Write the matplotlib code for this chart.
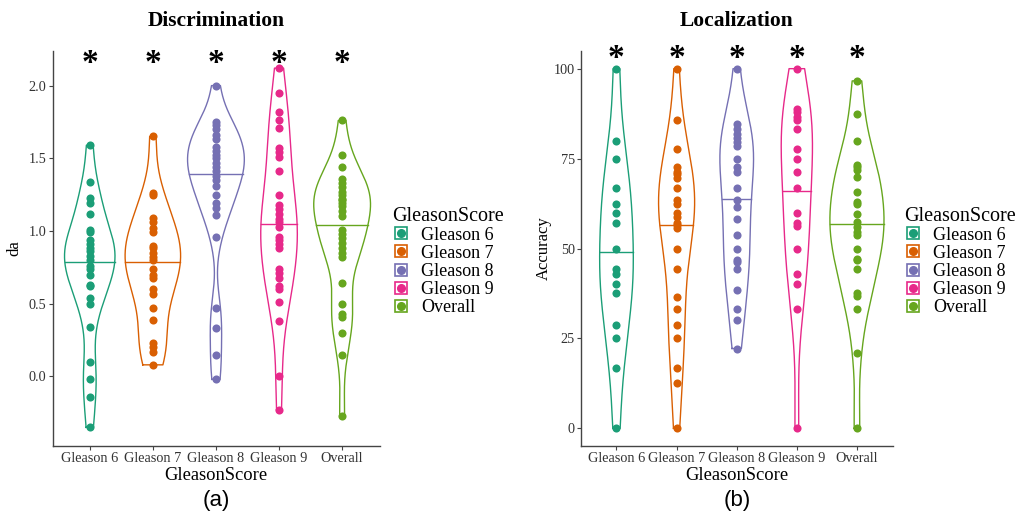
import numpy as np
import matplotlib.pyplot as plt
from matplotlib.lines import Line2D
from matplotlib.legend_handler import HandlerTuple

plt.rcParams['font.family'] = 'Liberation Serif'

grupos = ['Gleason 6', 'Gleason 7', 'Gleason 8', 'Gleason 9', 'Overall']
colores = ['#1B9E77', '#D95F02', '#7570B3', '#E7298A', '#66A61E']

# Discrimination (da), valores
da_g6 = [1.59, 1.34, 1.23, 1.19, 1.12, 1.01, 0.99, 0.94, 0.91, 0.88, 0.86, 0.83, 0.80,
         0.76, 0.74, 0.70, 0.63, 0.62, 0.54, 0.50, 0.34, 0.10, -0.02, -0.14, -0.35]
da_g7 = [1.65, 1.26, 1.25, 1.09, 1.06, 1.02, 0.99, 0.90, 0.88, 0.85, 0.82, 0.80,
         0.74, 0.70, 0.68, 0.60, 0.57, 0.47, 0.39, 0.23, 0.20, 0.17, 0.08]
da_g8 = [2.00, 1.75, 1.73, 1.70, 1.66, 1.63, 1.58, 1.55, 1.52, 1.50, 1.47, 1.44, 1.41,
         1.38, 1.35, 1.31, 1.25, 1.19, 1.16, 1.11, 0.96, 0.47, 0.33, 0.15, -0.02]
da_g9 = [2.12, 1.95, 1.82, 1.76, 1.71, 1.57, 1.54, 1.51, 1.41, 1.25, 1.18, 1.15, 1.12,
         1.08, 1.06, 1.03, 0.96, 0.94, 0.91, 0.88, 0.74, 0.71, 0.68, 0.62, 0.60, 0.51,
         0.38, 0.00, -0.23]
da_all = [1.76, 1.52, 1.44, 1.36, 1.33, 1.30, 1.27, 1.25, 1.22, 1.21, 1.19, 1.17, 1.14,
          1.10, 1.01, 0.98, 0.95, 0.92, 0.88, 0.85, 0.82, 0.64, 0.50, 0.43, 0.41, 0.30,
          0.15, -0.27]

# Localization (Accuracy)
acc_g6 = [100, 80, 75, 66.7, 62.5, 60, 57.1, 50, 44.4, 42.9, 40, 37.5, 28.6, 25, 16.7, 0]
acc_g7 = [100, 85.7, 77.8, 72.7, 71.4, 70.8, 69.6, 66.7, 63.6, 62.5, 60, 58.8, 57.1,
          56.5, 55.6, 50, 44.4, 36.4, 33.3, 28.6, 25, 16.7, 12.5, 0]
acc_g8 = [100, 84.6, 83.3, 81.8, 80.6, 79.6, 78.4, 75, 72.7, 71.4, 66.7, 63.6, 61.5,
          58.3, 53.8, 50, 46.7, 46.2, 44.4, 38.5, 33.3, 30, 22.2]
acc_g9 = [100, 88.9, 88, 86.7, 85.7, 83.3, 77.8, 75, 71.4, 66.7, 60, 57.1, 56.3, 50,
          42.9, 40, 33.3, 0]
acc_all = [96.6, 87.5, 80, 73.3, 72.7, 71.8, 70, 65.7, 63, 62.5, 59.7, 57.4, 56, 54.5,
           53.8, 50, 47.2, 46.7, 44.4, 37.5, 36.8, 33.3, 21, 0]

da = [da_g6, da_g7, da_g8, da_g9, da_all]
acc = [acc_g6, acc_g7, acc_g8, acc_g9, acc_all]

# semiancho maximo de cada violin (en unidades de categoria)
ancho_da = [0.40, 0.44, 0.45, 0.29, 0.45]
ancho_acc = [0.28, 0.30, 0.28, 0.26, 0.45]


def densidad(v, ajuste=1.0):
    v = np.asarray(v, float)
    n = len(v)
    iqr = np.percentile(v, 75) - np.percentile(v, 25)
    bw = ajuste * 0.9 * min(v.std(ddof=1), iqr / 1.34) * n ** -0.2
    y = np.linspace(v.min(), v.max(), 512)
    d = np.exp(-0.5 * ((y[:, None] - v[None, :]) / bw) ** 2).sum(1) / (n * bw * np.sqrt(2 * np.pi))
    return y, d


def violines(ax, datos, anchos, ajuste, yast):
    for i, (v, c, a) in enumerate(zip(datos, colores, anchos)):
        y, d = densidad(v, ajuste)
        w = a * d / d.max()
        xs = np.concatenate([i - w, (i + w)[::-1], [i - w[0]]])
        ys = np.concatenate([y, y[::-1], [y[0]]])
        ax.plot(xs, ys, color=c, lw=1.0)
        # mediana a partir de la densidad (como draw_quantiles)
        cdf = np.cumsum(d) / d.sum()
        ym = np.interp(0.5, cdf, y)
        wm = np.interp(ym, y, w)
        ax.plot([i - wm, i + wm], [ym, ym], color=c, lw=1.0)
        ax.scatter(np.full(len(v), i), v, s=34, color=c, zorder=3, linewidths=0)
        ax.annotate('*', (i, yast), xycoords=('data', 'axes fraction'), xytext=(0, -11),
                    textcoords='offset points', ha='center', va='baseline',
                    fontsize=24, fontweight='bold', annotation_clip=False)


def estilo(ax, titulo, ylab, ticks, etiquetas):
    ax.set_xlim(-0.59, 4.6)
    ax.set_xticks(range(5))
    ax.set_xticklabels(grupos, fontsize=10.3)
    ax.set_yticks(ticks)
    ax.set_yticklabels(etiquetas, fontsize=10.3)
    for s in ['top', 'right']:
        ax.spines[s].set_visible(False)
    for s in ['left', 'bottom']:
        ax.spines[s].set_color('#444444')
        ax.spines[s].set_linewidth(1.0)
    ax.tick_params(length=3, width=0.8, color='#444444', labelcolor='#333333', pad=1.5)
    ax.set_xlabel('GleasonScore', fontsize=13.3, labelpad=1)
    ax.set_ylabel(ylab, fontsize=12)
    ax.yaxis.set_label_coords(-0.092, 0.5)
    ax.set_title(titulo, fontsize=15.5, fontweight='bold', pad=18)


fig = plt.figure(figsize=(10.22, 5.14), dpi=100)
ax1 = fig.add_axes([0.0514, 0.1323, 0.3204, 0.7691])
ax2 = fig.add_axes([0.5685, 0.1323, 0.3053, 0.7691])

ax1.set_ylim(-0.478, 2.24)
ax2.set_ylim(-4.9, 105.0)
estilo(ax1, 'Discrimination', 'da', [0, 0.5, 1.0, 1.5, 2.0], ['0.0', '0.5', '1.0', '1.5', '2.0'])
estilo(ax2, 'Localization', 'Accuracy', [0, 25, 50, 75, 100], ['0', '25', '50', '75', '100'])
violines(ax1, da, ancho_da, 1.0, 0.984)
violines(ax2, acc, ancho_acc, 1.0, 0.997)

manijas = [(Line2D([], [], marker='s', ms=9, mfc='white', mec=c, mew=1.2, ls=''),
            Line2D([], [], marker='o', ms=5.5, mfc=c, mec=c, ls='')) for c in colores]
for xl in [0.384, 0.885]:
    leg = fig.legend(manijas, grupos, handler_map={tuple: HandlerTuple(ndivide=1)},
                     loc='upper left', bbox_to_anchor=(xl, 0.598), frameon=False,
                     title='GleasonScore', fontsize=13, title_fontsize=14.5,
                     handlelength=1.0, handletextpad=0.6, labelspacing=0.06,
                     borderpad=0, borderaxespad=0)
    leg._legend_box.align = 'left'

fig.text(0.212, 0.016, '(a)', fontsize=16, family='Liberation Sans', ha='center')
fig.text(0.721, 0.016, '(b)', fontsize=16, family='Liberation Sans', ha='center')

plt.savefig('out.png', dpi=100)
